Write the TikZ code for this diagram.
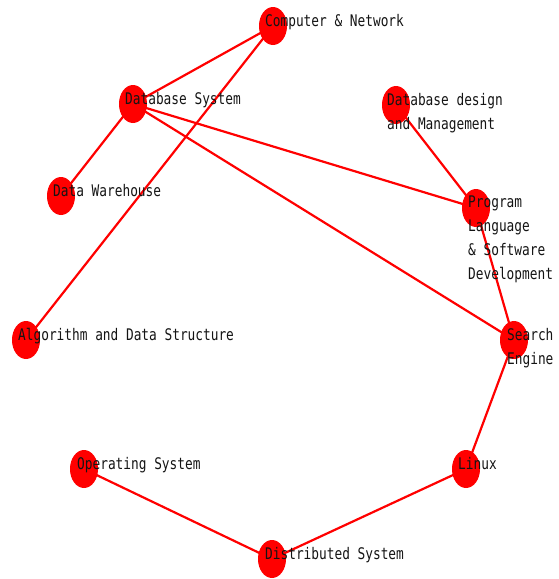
\documentclass[tikz,border=0pt]{standalone}
\usepackage{fontspec}
\newfontfamily\lblfont[FakeStretch=0.8]{DejaVu Sans Mono}
\usetikzlibrary{shapes.geometric}

\tikzset{
	vtx/.style={ellipse, fill=red, minimum width=28, minimum height=38, inner sep=0},
	lnk/.style={line width=2.2, color=red},
	lbl/.style={anchor=north west, inner sep=0, align=left, text=black!92,
		font=\lblfont\fontsize{16}{24}\selectfont},
}

\begin{document}
\begin{tikzpicture}[x=1pt, y=-1pt]
			%%%%% START %%%%%
			\useasboundingbox (0, 0) rectangle (559, 579);
			
			\node[vtx] (cn) at (273, 26) {};
			\node[vtx] (dbs) at (133, 104) {};
			\node[vtx] (dbd) at (396, 105) {};
			\node[vtx] (dw) at (61, 196) {};
			\node[vtx] (pl) at (476, 208) {};
			\node[vtx] (ads) at (26, 340) {};
			\node[vtx] (se) at (514, 340) {};
			\node[vtx] (os) at (84, 469) {};
			\node[vtx] (lx) at (466, 469) {};
			\node[vtx] (ds) at (272, 559) {};
			
			\draw[lnk] (cn.center) -- (dbs.center);
			\draw[lnk] (cn.center) -- (ads.center);
			\draw[lnk] (dbs.center) -- (dw.center);
			\draw[lnk] (dbs.center) -- (pl.center);
			\draw[lnk] (dbs.center) -- (se.center);
			\draw[lnk] (dbd.center) -- (pl.center);
			\draw[lnk] (pl.center) -- (se.center);
			\draw[lnk] (se.center) -- (lx.center);
			\draw[lnk] (lx.center) -- (ds.center);
			\draw[lnk] (os.center) -- (ds.center);
			
			\node[lbl] at ([shift={(-8, -12)}]cn.center) {Computer \& Network};
			\node[lbl] at ([shift={(-8, -12)}]dbs.center) {Database System};
			\node[lbl] at ([shift={(-9, -12)}]dbd.center) {Database design\\and Management};
			\node[lbl] at ([shift={(-8, -12)}]dw.center) {Data Warehouse};
			\node[lbl] at ([shift={(-8, -12)}]pl.center) {Program\\Language\\\& Software\\Development};
			\node[lbl] at ([shift={(-8, -12)}]ads.center) {Algorithm and Data Structure};
			\node[lbl] at ([shift={(-7, -12)}]se.center) {Search\\Engine};
			\node[lbl] at ([shift={(-7, -12)}]os.center) {Operating System};
			\node[lbl] at ([shift={(-8, -12)}]lx.center) {Linux};
			\node[lbl] at ([shift={(-7, -12)}]ds.center) {Distributed System};
			
			%%%%% END %%%%%
\end{tikzpicture}
\end{document}
